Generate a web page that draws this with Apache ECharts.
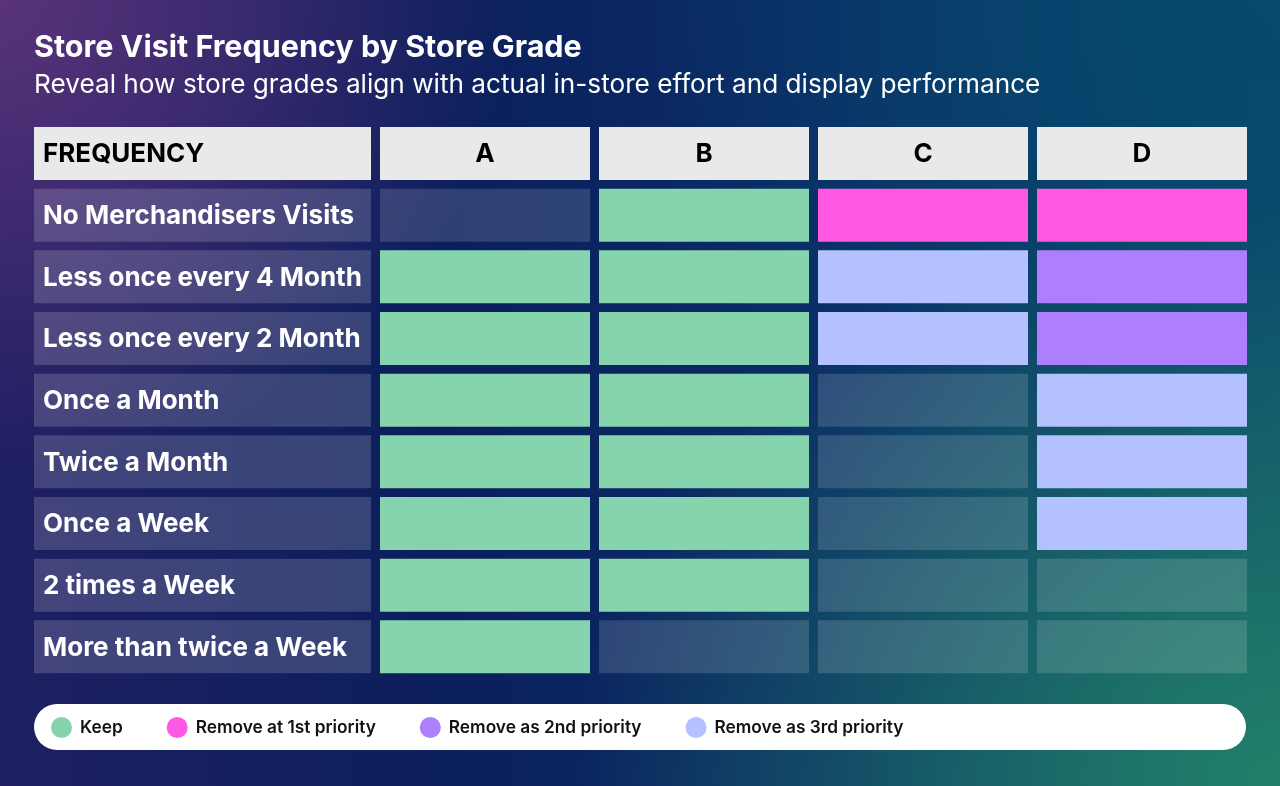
<!DOCTYPE html>
<html>
<head>
<meta charset="utf-8">
<script src="https://cdn.jsdelivr.net/npm/echarts@6/dist/echarts.min.js"></script>
<style>
  html, body { margin: 0; padding: 0; width: 1280px; height: 786px; overflow: hidden; }
  #chart {
    width: 1280px; height: 786px;
    background:
      radial-gradient(ellipse 40% 60% at 0% 0%, rgba(92,52,124,0.95), rgba(92,52,124,0) 100%),
      radial-gradient(ellipse 55% 75% at 100% 100%, rgba(34,128,104,1), rgba(34,128,104,0) 100%),
      radial-gradient(ellipse 50% 60% at 100% 0%, rgba(6,72,110,1), rgba(6,72,110,0) 100%),
      linear-gradient(90deg, #1f1f62 0%, #0b1f5c 35%, #0a2e66 65%, #0b4a6c 100%);
  }
</style>
</head>
<body>
<div id="chart"></div>
<script>
const chartTitle = 'Store Visit Frequency by Store Grade';
const chartSubtitle = 'Reveal how store grades align with actual in-store effort and display performance';
const headerLabel = 'FREQUENCY';
const grades = ['A', 'B', 'C', 'D'];
const frequencies = [
  'No Merchandisers Visits',
  'Less once every 4 Month',
  'Less once every 2 Month',
  'Once a Month',
  'Twice a Month',
  'Once a Week',
  '2 times a Week',
  'More than twice a Week'
];
const statusNames = ['Keep', 'Remove at 1st priority', 'Remove as 2nd priority', 'Remove as 3rd priority'];
const statusColors = ['#86d4ae', '#ff58e3', '#ad7ffe', '#b3c1fe'];
// 0 = no decision, 1 = Keep, 2 = 1st priority, 3 = 2nd priority, 4 = 3rd priority
const gradeA = [0, 1, 1, 1, 1, 1, 1, 1];
const gradeB = [1, 1, 1, 1, 1, 1, 1, 0];
const gradeC = [2, 4, 4, 0, 0, 0, 0, 0];
const gradeD = [2, 3, 3, 4, 4, 4, 0, 0];
const gradeStatus = [gradeA, gradeB, gradeC, gradeD];

const rowCats = [headerLabel].concat(frequencies);

const labelData = rowCats.map((r, i) => [0, i, r]);
const cellData = [];
grades.forEach((g, gi) => {
  cellData.push([gi, 0, -1, g]);
  gradeStatus[gi].forEach((s, ri) => cellData.push([gi, ri + 1, s, '']));
});

const FONT = 'Inter, "Noto Sans", sans-serif';
const COL_GAP = 9, ROW_GAP = 8.7;

function cellBox(api, x, y) {
  const p = api.coord([x, y]);
  const s = api.size([1, 1]);
  return { x: p[0] - s[0] / 2, y: p[1] - s[1] / 2, w: s[0] - COL_GAP, h: s[1] - ROW_GAP };
}

const chart = echarts.init(document.getElementById('chart'), null, { renderer: 'canvas' });
chart.setOption({
  backgroundColor: 'transparent',
  animation: false,
  title: {
    text: chartTitle,
    subtext: chartSubtitle,
    left: 34, top: 32, padding: 0,
    itemGap: 9,
    textStyle: { color: '#ffffff', fontFamily: FONT, fontSize: 30.5, fontWeight: 700 },
    subtextStyle: { color: '#ffffff', fontFamily: FONT, fontSize: 26.2, fontWeight: 400 }
  },
  grid: [
    { left: 34, top: 127, width: 346, height: 555 },
    { left: 380, top: 127, width: 876, height: 555 }
  ],
  xAxis: [
    { type: 'category', gridIndex: 0, data: [headerLabel], show: false },
    { type: 'category', gridIndex: 1, data: grades, show: false }
  ],
  yAxis: [
    { type: 'category', gridIndex: 0, data: rowCats, inverse: true, show: false },
    { type: 'category', gridIndex: 1, data: rowCats, inverse: true, show: false }
  ],
  legend: {
    left: 46, top: 712,
    icon: 'circle',
    itemWidth: 21, itemHeight: 21, itemGap: 44,
    selectedMode: false,
    zlevel: 1,
    data: statusNames,
    textStyle: { color: '#111111', fontFamily: FONT, fontSize: 17.3, fontWeight: 600, padding: [0, 0, 0, 3] }
  },
  graphic: [{
    type: 'rect', z: 0,
    shape: { x: 34, y: 704, width: 1212, height: 46, r: 23 },
    style: { fill: '#ffffff' }
  }],
  series: [
    {
      type: 'custom', xAxisIndex: 0, yAxisIndex: 0,
      data: labelData, silent: true,
      renderItem: function (params, api) {
        const y = api.value(1);
        const b = cellBox(api, 0, y);
        const isHead = y === 0;
        return {
          type: 'group',
          children: [
            { type: 'rect', shape: { x: b.x, y: b.y, width: b.w, height: b.h },
              style: { fill: isHead ? '#e9e9ea' : 'rgba(255,255,255,0.17)' } },
            { type: 'text', x: b.x + 9, y: b.y + b.h / 2 + 1,
              style: { text: labelData[params.dataIndex][2], fill: isHead ? '#000000' : '#ffffff',
                font: '700 26px ' + FONT, textVerticalAlign: 'middle', textAlign: 'left' } }
          ]
        };
      }
    },
    {
      type: 'custom', xAxisIndex: 1, yAxisIndex: 1,
      data: cellData, silent: true,
      renderItem: function (params, api) {
        const x = api.value(0), y = api.value(1), s = api.value(2);
        const b = cellBox(api, x, y);
        let fill;
        if (s === -1) fill = '#e9e9ea';
        else if (s === 0) fill = 'rgba(255,255,255,0.15)';
        else fill = statusColors[s - 1];
        const children = [{ type: 'rect', shape: { x: b.x, y: b.y, width: b.w, height: b.h }, style: { fill: fill } }];
        if (s === -1) {
          children.push({ type: 'text', x: b.x + b.w / 2, y: b.y + b.h / 2 + 1,
            style: { text: cellData[params.dataIndex][3], fill: '#000000', font: '700 26px ' + FONT,
              textAlign: 'center', textVerticalAlign: 'middle' } });
        }
        return { type: 'group', children: children };
      }
    }
  ].concat(statusNames.map((n, i) => ({
    type: 'scatter', name: n, xAxisIndex: 1, yAxisIndex: 1, data: [],
    itemStyle: { color: statusColors[i], opacity: 1 }
  })))
});
</script>
</body>
</html>
